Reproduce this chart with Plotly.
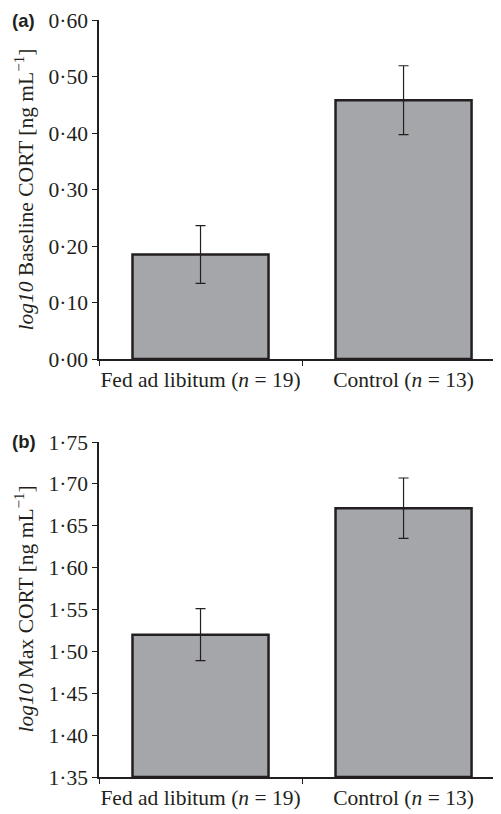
import plotly.graph_objects as go
from plotly.subplots import make_subplots

# ---- data ----
categories = ["Fed ad libitum (<i>n</i> = 19)", "Control (<i>n</i> = 13)"]
baseline_mean = [0.185, 0.458]
baseline_err = [0.051, 0.061]
max_mean = [1.520, 1.671]
max_err = [0.031, 0.036]

a_tickvals = [0.0, 0.1, 0.2, 0.3, 0.4, 0.5, 0.6]
a_ticktext = ["0·00", "0·10", "0·20", "0·30", "0·40", "0·50", "0·60"]
b_tickvals = [1.35, 1.40, 1.45, 1.50, 1.55, 1.60, 1.65, 1.70, 1.75]
b_ticktext = ["1·35", "1·40", "1·45", "1·50", "1·55", "1·60", "1·65", "1·70", "1·75"]

a_title = "<i>log10</i> Baseline CORT [ng mL<sup>−1</sup>]"
b_title = "<i>log10</i> Max CORT [ng mL<sup>−1</sup>]"

# ---- styles ----
INK = "#231f20"
FILL = "#a5a6aa"
SERIF = "Liberation Serif, Times New Roman, serif"
FS = 21.5

fig = make_subplots(rows=2, cols=1, vertical_spacing=0.0)

fig.add_trace(go.Bar(
    x=categories, y=baseline_mean, width=0.67,
    marker=dict(color=FILL, line=dict(color=INK, width=2.5)),
    error_y=dict(type="data", array=baseline_err, color=INK, thickness=1.2, width=5),
    showlegend=False), row=1, col=1)

fig.add_trace(go.Bar(
    x=categories, y=[v - b_tickvals[0] for v in max_mean], base=b_tickvals[0], width=0.67,
    marker=dict(color=FILL, line=dict(color=INK, width=2.5)),
    error_y=dict(type="data", array=max_err, color=INK, thickness=1.2, width=5),
    showlegend=False), row=2, col=1)

# page body has an 8px margin; lay out in window pixel coordinates minus that offset
OFF = 8
FW, FH = 501 - OFF, 814 - OFF
L = 99 - OFF
T = 20 - OFF
BOT = 777 - OFF          # bottom of plot area (figure px)
B = FH - BOT
ph = FH - T - B
W = FW - L


def fy(win_y):
    return (BOT - (win_y - OFF)) / ph


def fx(win_x):
    return ((win_x - OFF) - L) / W


axis_common = dict(showline=True, linecolor=INK, linewidth=1.5, ticks="outside",
                   ticklen=5, tickwidth=1, tickcolor=INK, showgrid=False, zeroline=False,
                   automargin=False,
                   tickfont=dict(family=SERIF, size=FS, color=INK))

fig.update_xaxes(**axis_common, type="category", tickson="boundaries",
                 range=[-0.5, 1.48], tickangle=0)
fig.update_yaxes(**axis_common)

fig.update_layout(
    yaxis=dict(range=[0, 0.6], tickvals=a_tickvals, ticktext=a_ticktext,
               domain=[fy(359), 1.0]),
    yaxis2=dict(range=[1.35, 1.75], tickvals=b_tickvals, ticktext=b_ticktext,
                domain=[0.0, fy(442)]),
)

annots = [
    dict(text=a_title, x=fx(24), y=(fy(359) + 1.0) / 2, textangle=-90),
    dict(text=b_title, x=fx(24), y=fy(442) / 2, textangle=-90),
]
for a in annots:
    a.update(xref="paper", yref="paper", xanchor="center", yanchor="middle",
             showarrow=False, font=dict(family=SERIF, size=FS, color=INK))
    fig.add_annotation(**a)

for lbl, ypix in [("(a)", 20), ("(b)", 442)]:
    fig.add_annotation(text="<b>" + lbl + "</b>", xref="paper", yref="paper",
                       x=fx(23.5), y=fy(ypix),
                       xanchor="center", yanchor="middle", showarrow=False,
                       font=dict(family="Liberation Sans, Arial, sans-serif", size=18.5, color=INK))

fig.update_layout(
    width=FW, height=FH,
    margin=dict(l=L, r=0, t=T, b=B, autoexpand=False),
    paper_bgcolor="white", plot_bgcolor="white",
)

fig.write_html("out.html")
